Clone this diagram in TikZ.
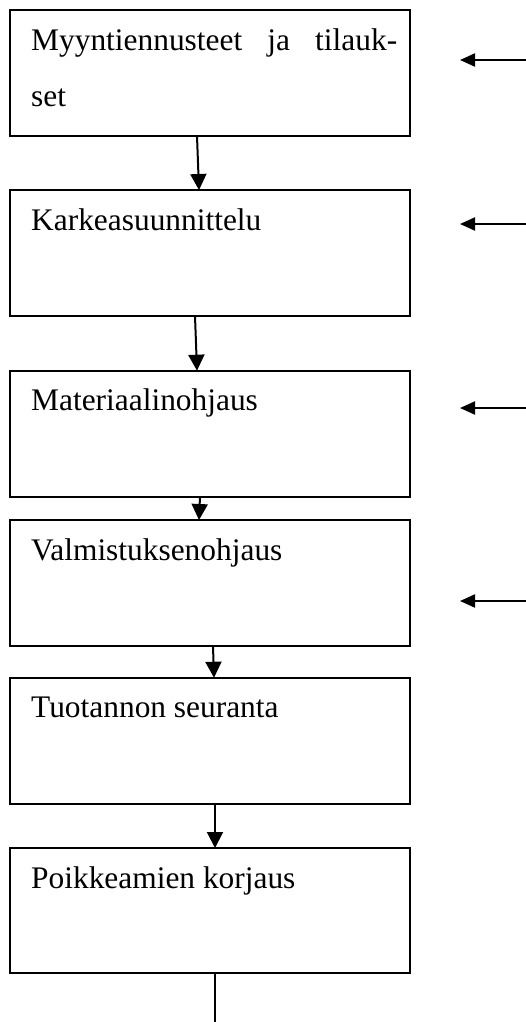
\documentclass[tikz,border=0pt]{standalone}
\usepackage{fontspec}
\setmainfont{Liberation Serif}
\usetikzlibrary{calc,arrows.meta}
\begin{document}
\begin{tikzpicture}[x=1bp,y=-1bp,
  box/.style={draw,line width=2bp,minimum width=400bp,inner sep=0pt,outer sep=0pt},
  lbl/.style={anchor=base west,inner sep=0pt,font=\fontsize{31.4bp}{55bp}\selectfont},
  flow/.style={line width=2bp,-{Triangle[length=16bp,width=16bp]}},
  feed/.style={line width=2bp,-{Triangle[length=15bp,width=13bp]}}]
\useasboundingbox (0,0) rectangle (526,1022);
% process steps
\node[box,minimum height=126bp] (b1) at (210,73) {};
\node[box,minimum height=126bp] (b2) at (210,253) {};
\node[box,minimum height=126bp] (b3) at (210,433.7) {};
\node[box,minimum height=126bp] (b4) at (210,583) {};
\node[box,minimum height=126.3bp] (b5) at (210,740.9) {};
\node[box,minimum height=125bp] (b6) at (210,910.5) {};
% labels
\node[lbl] (t1) at ($(b1.north west)+(21,40)$) {\makebox[366bp][s]{Myyntiennusteet ja tilauk-}};
\node[lbl] (t1b) at ($(b1.north west)+(21,96)$) {set};
\node[lbl] (t2) at ($(b2.north west)+(21,40)$) {Karkeasuunnittelu};
\node[lbl] (t3) at ($(b3.north west)+(21,40)$) {Materiaalinohjaus};
\node[lbl] (t4) at ($(b4.north west)+(21,40)$) {Valmistuksenohjaus};
\node[lbl] (t5) at ($(b5.north west)+(21,40)$) {Tuotannon seuranta};
\node[lbl] (t6) at ($(b6.north west)+(21,40)$) {Poikkeamien korjaus};
% flow between steps
\draw[flow] ($(b1.south)+(-13,0)$) -- ($(b2.north)+(-11,0)$);
\draw[flow] ($(b2.south)+(-15,0)$) -- ($(b3.north)+(-13,0)$);
\draw[flow] ($(b3.south)+(-10,0)$) -- ($(b4.north)+(-11,0)$);
\draw[flow] ($(b4.south)+(3,0)$) -- ($(b5.north)+(4,0)$);
\draw[flow] ($(b5.south)+(5,0)$) -- ($(b6.north)+(5,0)$);
\coordinate (out) at (215,1030);
\draw[line width=2bp] ($(b6.south)+(5,0)$) -- (out);
% inputs from the right
\coordinate (s1) at (530,60);  \coordinate (e1) at (460,60);
\coordinate (s2) at (530,224); \coordinate (e2) at (460,224);
\coordinate (s3) at (530,408); \coordinate (e3) at (460,408);
\coordinate (s4) at (530,601); \coordinate (e4) at (460,601);
\draw[feed] (s1) -- (e1);
\draw[feed] (s2) -- (e2);
\draw[feed] (s3) -- (e3);
\draw[feed] (s4) -- (e4);
\end{tikzpicture}
\end{document}
